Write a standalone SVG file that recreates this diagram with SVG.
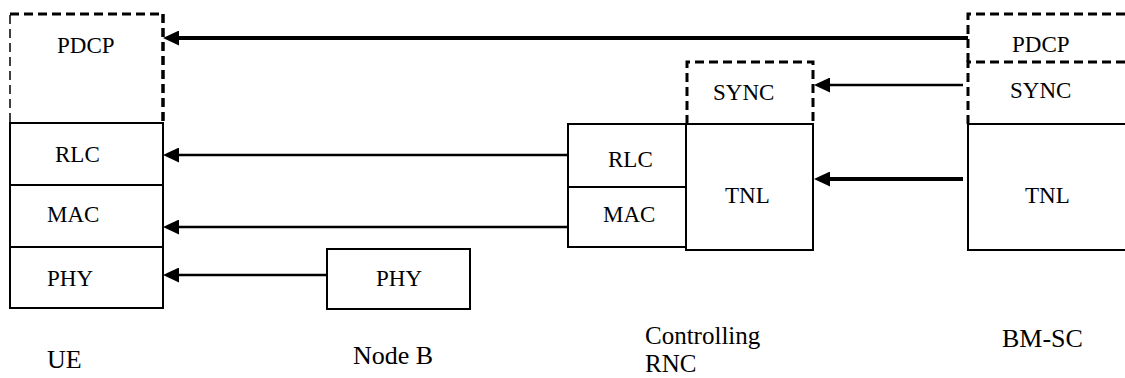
<svg xmlns="http://www.w3.org/2000/svg" width="1125" height="378" viewBox="0 0 1125 378">
<style>
.box{fill:none;stroke:#000;stroke-width:2}
.dash{fill:none;stroke:#000;stroke-width:3;stroke-dasharray:9 5}
.dthin{fill:none;stroke:#000;stroke-width:1.5;stroke-dasharray:9 5}
.t{font-size:23px;fill:#000}
.lbl{font-size:26px;fill:#000}
.thin{stroke:#000;stroke-width:2.5;fill:none;marker-end:url(#ah)}
.thick{stroke:#000;stroke-width:4;fill:none;marker-end:url(#ah)}
</style>
<defs>
<marker id="ah" viewBox="0 0 16 15" refX="8" refY="7.5" markerWidth="16" markerHeight="15" markerUnits="userSpaceOnUse" orient="auto">
<path d="M0,0 L16,7.5 L0,15 z" fill="#000"/>
</marker>
</defs>
<rect width="1125" height="378" fill="#fff"/>
<g font-family="'Liberation Serif', 'DejaVu Serif', serif">
<g id="ue">
<g id="ue-pdcp">
<line class="dthin" x1="10" y1="122" x2="10" y2="14"/>
<line class="dash" x1="10" y1="14" x2="163" y2="14"/>
<line class="dash" x1="163" y1="14" x2="163" y2="122" style="stroke-width:3.5"/>
<text class="t" x="57" y="53">PDCP</text>
</g>
<g id="ue-rlc"><rect class="box" x="10" y="123" width="153" height="62"/><text class="t" x="55" y="162">RLC</text></g>
<g id="ue-mac"><rect class="box" x="10" y="185" width="153" height="62"/><text class="t" x="47" y="222">MAC</text></g>
<g id="ue-phy"><rect class="box" x="10" y="247" width="153" height="61"/><text class="t" x="47" y="286">PHY</text></g>
<text class="lbl" x="47" y="368">UE</text>
</g>

<g id="nodeb">
<g id="nodeb-phy"><rect class="box" x="327" y="249" width="143" height="60"/><text class="t" x="376" y="286">PHY</text></g>
<text class="lbl" x="353" y="364">Node B</text>
</g>

<g id="rnc">
<g id="rnc-sync"><path class="dash" d="M687,124 V62 H813 V124"/><text class="t" x="713" y="100">SYNC</text></g>
<g id="rnc-rlc"><rect class="box" x="568" y="124" width="118" height="63"/><text class="t" x="608" y="167">RLC</text></g>
<g id="rnc-mac"><rect class="box" x="568" y="187" width="118" height="60"/><text class="t" x="603" y="222">MAC</text></g>
<g id="rnc-tnl"><rect class="box" x="686" y="124" width="127" height="126"/><text class="t" x="725" y="203">TNL</text></g>
<text class="lbl" x="645" y="344" style="font-size:25px">Controlling</text>
<text class="lbl" x="645" y="372" style="font-size:25px">RNC</text>
</g>

<g id="bmsc">
<g id="bmsc-pdcp"><path class="dash" d="M968,62 V14 H1130"/><text class="t" x="1012" y="52">PDCP</text></g>
<g id="bmsc-sync"><path class="dash" d="M968,124 V62 H1130"/><text class="t" x="1010" y="98">SYNC</text></g>
<g id="bmsc-tnl"><path class="box" d="M1130,124 H968 V250 H1130"/><text class="t" x="1025" y="203">TNL</text></g>
<text class="lbl" x="1002" y="347">BM-SC</text>
</g>
</g>
<g id="connectors">
<line class="thick" x1="968" y1="38" x2="171" y2="38"/>
<line class="thin" x1="568" y1="155" x2="171" y2="155"/>
<line class="thin" x1="568" y1="227" x2="171" y2="227"/>
<line class="thin" x1="327" y1="275" x2="171" y2="275"/>
<line class="thin" x1="963" y1="85" x2="822" y2="85"/>
<line class="thick" x1="963" y1="179" x2="822" y2="179"/>
</g>
</svg>
